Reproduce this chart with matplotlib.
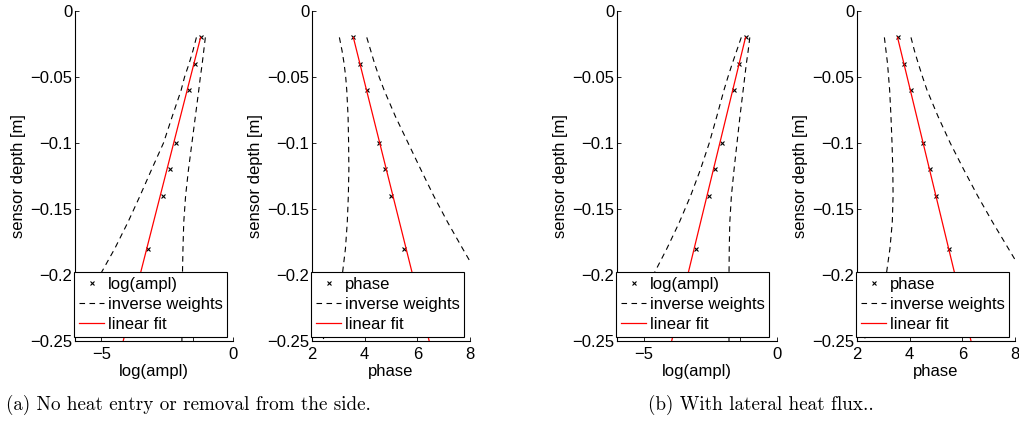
import matplotlib
matplotlib.use("Agg")
import matplotlib.pyplot as plt

plt.rcParams['font.family'] = ['Liberation Sans', 'DejaVu Sans']
plt.rcParams['axes.unicode_minus'] = True

# sensor depths of the measurements [m]
depth = [-0.02, -0.04, -0.06, -0.10, -0.12, -0.14, -0.18]

# (a) no heat entry or removal from the side
log_ampl_a = [-1.23, -1.45, -1.68, -2.15, -2.39, -2.67, -3.23]
phase_a = [3.57, 3.82, 4.08, 4.56, 4.77, 5.00, 5.49]

# (b) with lateral heat flux
log_ampl_b = [-1.18, -1.42, -1.62, -2.08, -2.31, -2.55, -3.02]
phase_b = [3.54, 3.80, 4.06, 4.52, 4.77, 4.99, 5.51]

# linear fits, given by their end points
fit_depth = [-0.02, -0.25]
fit_log_ampl_a = [-1.23, -4.17]
fit_phase_a = [3.57, 6.45]
fit_log_ampl_b = [-1.18, -3.95]
fit_phase_b = [3.54, 6.33]

# inverse-weight envelopes
w_depth = [-0.02, -0.03, -0.04, -0.05, -0.06, -0.08, -0.10,
           -0.12, -0.14, -0.16, -0.18, -0.20, -0.22, -0.25]
w_log_ampl_a_lo = [-1.39, -1.52, -1.67, -1.84, -1.97, -2.31, -2.64,
                   -3.09, -3.53, -3.99, -4.49, -5.05, -5.59, -6.50]
w_log_ampl_a_hi = [-1.05, -1.11, -1.17, -1.24, -1.30, -1.43, -1.56,
                   -1.69, -1.80, -1.87, -1.90, -1.92, -1.93, -1.94]
w_phase_a_lo = [3.04, 3.14, 3.22, 3.28, 3.32, 3.37, 3.39,
                3.40, 3.38, 3.34, 3.27, 3.15, 2.97, 2.40]
w_phase_a_hi = [4.08, 4.23, 4.38, 4.55, 4.74, 5.17, 5.65,
                6.13, 6.62, 7.15, 7.72, 8.30, 8.90, 9.80]
w_log_ampl_b_lo = [-1.34, -1.51, -1.68, -1.84, -1.99, -2.26, -2.54,
                   -2.87, -3.24, -3.66, -4.13, -4.64, -5.17, -5.99]
w_log_ampl_b_hi = [-1.02, -1.08, -1.15, -1.21, -1.27, -1.39, -1.50,
                   -1.61, -1.71, -1.77, -1.79, -1.80, -1.80, -1.80]
w_phase_b_lo = [3.04, 3.10, 3.16, 3.20, 3.24, 3.29, 3.33,
                3.36, 3.37, 3.34, 3.25, 3.11, 2.90, 2.25]
w_phase_b_hi = [4.05, 4.18, 4.33, 4.49, 4.66, 5.08, 5.54,
                6.05, 6.58, 7.15, 7.75, 8.35, 8.95, 9.85]

y_ticks = [0, -0.05, -0.1, -0.15, -0.2, -0.25]
y_tick_labels = ['0', '\u22120.05', '\u22120.1', '\u22120.15', '\u22120.2', '\u22120.25']

W, H = 1019, 428
fig = plt.figure(figsize=(W / 100, H / 100), dpi=100)

FS = 12


def px_axes(left, right, top=11, bottom=341):
    return fig.add_axes([left / W, 1 - bottom / H, (right - left) / W, (bottom - top) / H])


def panel(ax, values, fit_vals, w_lo, w_hi, xlim, xticks, xticklabels, name):
    ax.plot(values, depth, linestyle='none', marker='x', color='black',
            markersize=3.5, markeredgewidth=0.8, label=name)
    ax.plot(w_lo, w_depth, color='black', lw=0.8, linestyle=(0, (5, 4)),
            label='inverse weights')
    ax.plot(w_hi, w_depth, color='black', lw=0.8, linestyle=(0, (5, 4)))
    ax.plot(fit_vals, fit_depth, color='red', lw=0.9, label='linear fit')
    ax.set_xlim(*xlim)
    ax.set_ylim(-0.25, 0)
    ax.set_xticks(xticks)
    ax.set_xticklabels(xticklabels)
    ax.set_yticks(y_ticks)
    ax.set_yticklabels(y_tick_labels)
    ax.set_xlabel(name, fontsize=FS, labelpad=2)
    ax.set_ylabel('sensor depth [m]', fontsize=FS, labelpad=3)
    ax.tick_params(direction='in', length=3, width=0.6, labelsize=FS, pad=4)
    ax.tick_params(axis='y', pad=2)
    ax.spines['top'].set_visible(False)
    ax.spines['right'].set_visible(False)
    for s in ('left', 'bottom'):
        ax.spines[s].set_linewidth(0.8)
    leg = ax.legend(loc='lower left', bbox_to_anchor=(-0.005, 0.012),
                    fontsize=FS, frameon=True, fancybox=False,
                    handlelength=1.5, handletextpad=0.2, labelspacing=0.3,
                    borderpad=0.3, borderaxespad=0, framealpha=1)
    leg.get_frame().set_edgecolor('black')
    leg.get_frame().set_linewidth(0.8)


ax1 = px_axes(75, 233)
panel(ax1, log_ampl_a, fit_log_ampl_a, w_log_ampl_a_lo, w_log_ampl_a_hi,
      (-6, 0), [-5, -1.5, 0], ['\u22125', '', '0'], 'log(ampl)')
ax2 = px_axes(312, 470)
panel(ax2, phase_a, fit_phase_a, w_phase_a_lo, w_phase_a_hi,
      (2, 8), [2, 4, 6, 8], ['2', '4', '6', '8'], 'phase')
ax3 = px_axes(617, 777)
panel(ax3, log_ampl_b, fit_log_ampl_b, w_log_ampl_b_lo, w_log_ampl_b_hi,
      (-6, 0), [-5, -1.4, 0], ['\u22125', '', '0'], 'log(ampl)')
ax4 = px_axes(857, 1015)
panel(ax4, phase_b, fit_phase_b, w_phase_b_lo, w_phase_b_hi,
      (2, 8), [2, 4, 6, 8], ['2', '4', '6', '8'], 'phase')

fig.text(6 / W, 1 - 405 / H, '(a) No heat entry or removal from the side.',
         family=['cmr10', 'DejaVu Serif'], fontsize=13.75, ha='left', va='center')
fig.text(648 / W, 1 - 405 / H, '(b) With lateral heat flux..',
         family=['cmr10', 'DejaVu Serif'], fontsize=13.75, ha='left', va='center')

fig.savefig('out.png', dpi=100)
